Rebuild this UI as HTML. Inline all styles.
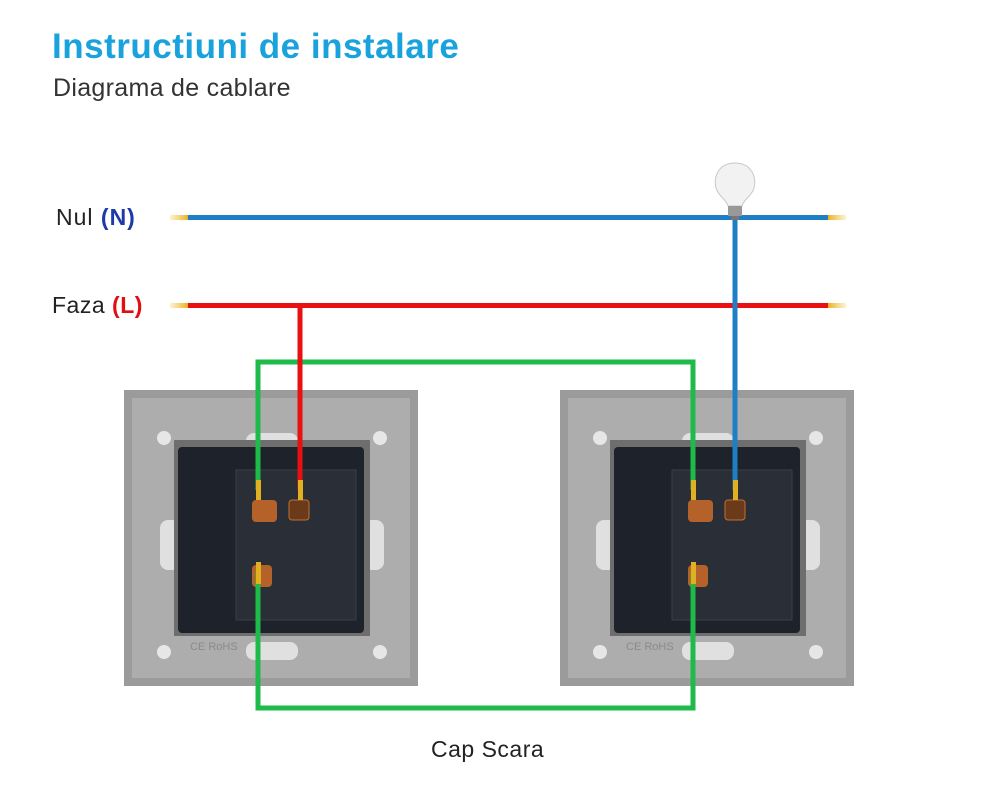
<!DOCTYPE html>
<html><head><meta charset="utf-8"><style>
body{margin:0;background:#fff;width:986px;height:805px;overflow:hidden;font-family:"Liberation Sans",sans-serif}
</style></head><body>
<svg width="986" height="805" viewBox="0 0 986 805" xmlns="http://www.w3.org/2000/svg">
<defs>
<linearGradient id="tipL" x1="0" x2="1"><stop offset="0" stop-color="#f5d060" stop-opacity="0.3"/><stop offset="1" stop-color="#e8b020"/></linearGradient>
<linearGradient id="tipR" x1="0" x2="1"><stop offset="0" stop-color="#e8b020"/><stop offset="1" stop-color="#f5d060" stop-opacity="0.3"/></linearGradient>
<g id="mod">
<rect x="0" y="0" width="294" height="296" fill="#9b9b9b"/>
<rect x="8" y="8" width="278" height="280" fill="#adadad"/>
<circle cx="40" cy="48" r="7" fill="#e6e6e6"/><circle cx="256" cy="48" r="7" fill="#e6e6e6"/>
<circle cx="40" cy="262" r="7" fill="#e6e6e6"/><circle cx="256" cy="262" r="7" fill="#e6e6e6"/>
<rect x="122" y="43" width="52" height="18" rx="8" fill="#e0e0e0"/>
<rect x="122" y="252" width="52" height="18" rx="8" fill="#e0e0e0"/>
<rect x="36" y="130" width="20" height="50" rx="8" fill="#e0e0e0"/>
<rect x="240" y="130" width="20" height="50" rx="8" fill="#e0e0e0"/>
<rect x="50" y="50" width="196" height="196" fill="#6e6e6e"/>
<rect x="54" y="57" width="186" height="186" rx="4" fill="#1e222a"/>
<rect x="112" y="80" width="120" height="150" fill="#2a2e36" stroke="#3a3e46"/>
<rect x="128" y="110" width="25" height="22" rx="4" fill="#b4622a"/>
<rect x="165" y="110" width="20" height="20" rx="3" fill="#6b3a1a" stroke="#c07030"/>
<rect x="128" y="175" width="20" height="22" rx="4" fill="#b4622a"/>
<text x="66" y="260" font-size="11" fill="#8a8a8a">CE RoHS</text>
</g>
</defs>
<text x="52" y="58" font-size="35" font-weight="bold" fill="#1aa2dc" letter-spacing="0.5">Instructiuni de instalare</text>
<text x="53" y="96" font-size="25" fill="#333" letter-spacing="0.3">Diagrama de cablare</text>
<text x="56" y="225" font-size="23" fill="#222" letter-spacing="1">Nul <tspan font-weight="bold" fill="#1c3aa8">(N)</tspan></text>
<text x="52" y="313" font-size="23" fill="#222" letter-spacing="0.5">Faza <tspan font-weight="bold" fill="#e01010">(L)</tspan></text>
<use href="#mod" x="124" y="390"/>
<use href="#mod" x="560" y="390"/>
<rect x="170" y="215" width="18" height="5" fill="url(#tipL)"/>
<rect x="828" y="215" width="18" height="5" fill="url(#tipR)"/>
<line x1="188" y1="217.5" x2="828" y2="217.5" stroke="#1f7fc4" stroke-width="5"/>
<rect x="170" y="303" width="18" height="5" fill="url(#tipL)"/>
<rect x="828" y="303" width="18" height="5" fill="url(#tipR)"/>
<line x1="188" y1="305.5" x2="828" y2="305.5" stroke="#e81010" stroke-width="5"/>
<polyline points="258,490 258,362 693,362 693,490" fill="none" stroke="#1fbb4a" stroke-width="5"/>
<polyline points="258,572 258,708 693,708 693,572" fill="none" stroke="#1fbb4a" stroke-width="5"/>
<polyline points="300,305 300,490" fill="none" stroke="#e81010" stroke-width="5"/>
<polyline points="735,217 735,490" fill="none" stroke="#1f7fc4" stroke-width="5"/>
<g fill="#e0b020">
<rect x="256" y="480" width="5" height="20"/><rect x="298" y="480" width="5" height="20"/>
<rect x="256" y="562" width="5" height="22"/>
<rect x="691" y="480" width="5" height="20"/><rect x="733" y="480" width="5" height="20"/>
<rect x="691" y="562" width="5" height="22"/>
</g>
<path d="M735,163 C720,163 713,175 716,188 C718,196 727,200 728,206 L742,206 C743,200 752,196 754,188 C757,175 750,163 735,163 Z" fill="#f2f2f2" stroke="#c8c8c8"/>
<rect x="728" y="206" width="14" height="10" fill="#999"/>
<rect x="731" y="216" width="8" height="4" fill="#777"/>
<text x="431" y="757" font-size="23" fill="#222" letter-spacing="0.5">Cap Scara</text>
</svg>
</body></html>
